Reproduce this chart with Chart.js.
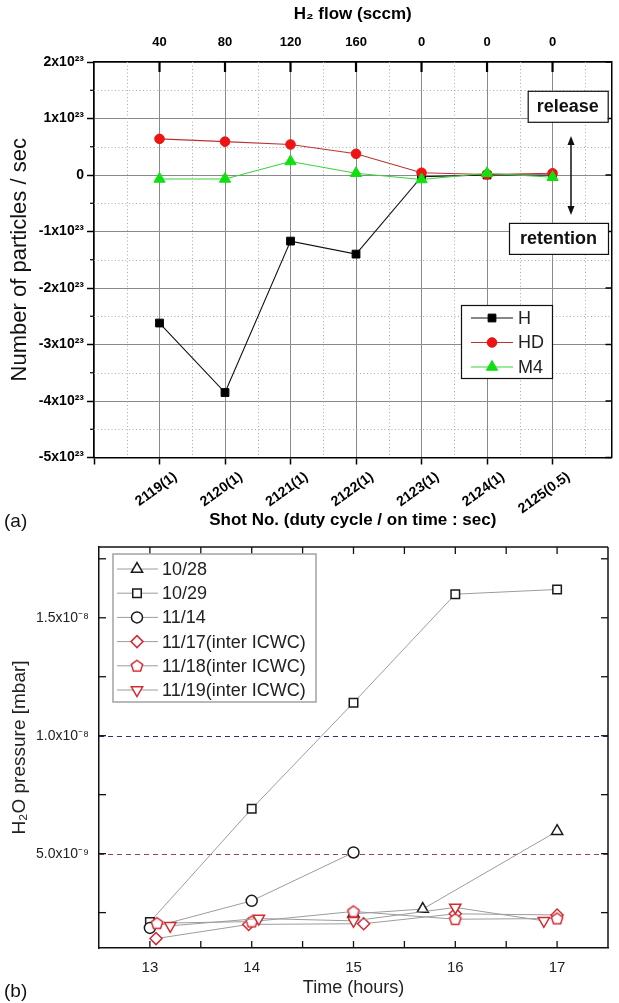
<!DOCTYPE html>
<html>
<head>
<meta charset="utf-8">
<script src="https://cdn.jsdelivr.net/npm/chart.js@4.4.1/dist/chart.umd.min.js"></script>
<style>
  html, body { margin:0; padding:0; background:#fff; }
  body { width:619px; height:1003px; position:relative; overflow:hidden; font-family:'Liberation Sans', Arial, sans-serif; }
  canvas { position:absolute; left:0; }
  #ca { top:0; }
  #cb { top:535px; }
  .panel { position:absolute; left:4px; font-size:19px; color:#111; line-height:1; }
</style>
</head>
<body>
<canvas id="ca" width="619" height="535"></canvas>
<canvas id="cb" width="619" height="468"></canvas>
<div class="panel" style="top:511px">(a)</div>
<div class="panel" style="top:981px">(b)</div>
<script>
// ================= DATA (a) =================
const shotLabels = ['2119(1)', '2120(1)', '2121(1)', '2122(1)', '2123(1)', '2124(1)', '2125(0.5)'];
const shotPos    = [1, 2, 3, 4, 5, 6, 7];
const flowLabels = ['40', '80', '120', '160', '0', '0', '0'];
const hValues    = [-2.62e23, -3.85e23, -1.17e23, -1.40e23, -0.03e23, 0.00e23, 0.00e23];
const hdValues   = [0.64e23, 0.59e23, 0.54e23, 0.375e23, 0.04e23, 0.01e23, 0.03e23];
const m4Values   = [-0.07e23, -0.07e23, 0.24e23, 0.03e23, -0.08e23, 0.03e23, -0.04e23];
const yTicksA    = [-5e23, -4e23, -3e23, -2e23, -1e23, 0, 1e23, 2e23];
const yMinorA    = [-4.5e23, -3.5e23, -2.5e23, -1.5e23, -0.5e23, 0.5e23, 1.5e23];
const xTicksA    = [0, 1, 2, 3, 4, 5, 6, 7];
const xMinorA    = [0.5, 1.5, 2.5, 3.5, 4.5, 5.5, 6.5, 7.5];

// ================= DATA (b) =================
const t1028 = [15.0, 15.68, 17.0];
const p1028 = [2.45e-9, 2.65e-9, 5.95e-9];
const t1029 = [13.0, 14.0, 15.0, 16.0, 17.0];
const p1029 = [2.1e-9, 6.9e-9, 1.14e-8, 1.60e-8, 1.62e-8];
const t1114 = [13.0, 14.0, 15.0];
const p1114 = [1.85e-9, 3.0e-9, 5.05e-9];
const t1117 = [13.06, 13.97, 15.1, 16.0, 17.0];
const p1117 = [1.4e-9, 2.0e-9, 2.03e-9, 2.45e-9, 2.4e-9];
const t1118 = [13.07, 14.0, 15.0, 16.0, 17.0];
const p1118 = [2.05e-9, 2.12e-9, 2.55e-9, 2.22e-9, 2.25e-9];
const t1119 = [13.2, 14.07, 15.0, 16.0, 16.87];
const p1119 = [1.94e-9, 2.25e-9, 2.15e-9, 2.72e-9, 2.15e-9];
const xTicksB = [13, 14, 15, 16, 17];
const xMinorB = [13.5, 14.5, 15.5, 16.5];
const yTicksB = [5e-9, 1.0e-8, 1.5e-8];
const yMinorB = [2.5e-9, 7.5e-9, 1.25e-8, 1.75e-8];
const refLevels = [1.0e-8, 5.0e-9];

// ================= helpers =================
const FONT = "'Liberation Sans', Arial, Helvetica, sans-serif";
Chart.defaults.font.family = FONT;
Chart.defaults.animation = false;
Chart.defaults.color = '#000';

const SUP = {'0':'⁰','1':'¹','2':'²','3':'³','4':'⁴','5':'⁵','6':'⁶','7':'⁷','8':'⁸','9':'⁹','-':'⁻'};
const sup = s => String(s).split('').map(c => SUP[c] || c).join('');
function seg(ctx, x1, y1, x2, y2) { ctx.beginPath(); ctx.moveTo(x1, y1); ctx.lineTo(x2, y2); ctx.stroke(); }
function zeroPad(s) { s.paddingLeft = 0; s.paddingRight = 0; s.paddingTop = 0; s.paddingBottom = 0; }
function setTicks(vals) { return s => { s.ticks = vals.map(v => ({ value: v })); }; }
function drawMarker(ctx, ds, x, y) {
  const opts = { pointStyle: ds.pointStyle, radius: ds.pointRadius, rotation: ds.pointRotation || 0, borderWidth: ds.pointBorderWidth };
  ctx.save();
  ctx.fillStyle = ds.pointBackgroundColor;
  ctx.strokeStyle = ds.pointBorderColor;
  ctx.lineWidth = ds.pointBorderWidth;
  ctx.setLineDash([]);
  Chart.helpers.drawPoint(ctx, opts, x, y);
  ctx.restore();
}

// ================= CHART (a) =================
const decorA = {
  id: 'decorA',
  beforeDatasetsDraw(chart) {
    const { ctx, chartArea: a, scales } = chart;
    const x = scales.x, y = scales.y;
    ctx.save();
    ctx.strokeStyle = '#a9a9a9'; ctx.lineWidth = 1; ctx.setLineDash([1, 2.5]);
    xMinorA.forEach(v => { const p = Math.round(x.getPixelForValue(v)) + 0.5; seg(ctx, p, a.top, p, a.bottom); });
    yMinorA.forEach(v => { const p = Math.round(y.getPixelForValue(v)) + 0.5; seg(ctx, a.left, p, a.right, p); });
    ctx.restore();
  },
  afterDatasetsDraw(chart) {
    const { ctx, chartArea: a, scales } = chart;
    const x = scales.x, y = scales.y;
    ctx.save();
    ctx.setLineDash([]);
    ctx.strokeStyle = '#000';
    ctx.lineWidth = 2.2;
    shotPos.forEach(v => { const p = x.getPixelForValue(v); seg(ctx, p, a.top, p, a.top + 10); });
    ctx.lineWidth = 1.5;
    yTicksA.forEach(v => { const p = y.getPixelForValue(v); seg(ctx, a.right, p, a.right - 6, p); });
    ctx.lineWidth = 1.2;
    yMinorA.forEach(v => { const p = y.getPixelForValue(v); seg(ctx, a.left, p, a.left - 4, p); });

    const lx = a.left + 367, ly = a.top + 243, lw = 91, lh = 73;
    ctx.fillStyle = '#fff'; ctx.fillRect(lx, ly, lw, lh);
    ctx.strokeStyle = '#111'; ctx.lineWidth = 1.2; ctx.strokeRect(lx + 0.5, ly + 0.5, lw, lh);
    chart.data.datasets.forEach((ds, i) => {
      const cy = ly + 13 + i * 24.5;
      ctx.strokeStyle = ds.borderColor; ctx.lineWidth = 1.2;
      seg(ctx, lx + 10, cy, lx + 52, cy);
      drawMarker(ctx, ds, lx + 31, cy);
      ctx.fillStyle = '#222'; ctx.font = '18px ' + FONT; ctx.textAlign = 'left'; ctx.textBaseline = 'middle';
      ctx.fillText(ds.label, lx + 57, cy + 1);
    });

    const box = (cx, cy, w, h, t) => {
      ctx.fillStyle = '#fff'; ctx.fillRect(cx - w / 2, cy - h / 2, w, h);
      ctx.strokeStyle = '#111'; ctx.lineWidth = 1.2; ctx.strokeRect(cx - w / 2 + 0.5, cy - h / 2 + 0.5, w, h);
      ctx.fillStyle = '#111'; ctx.font = 'bold 18px ' + FONT; ctx.textAlign = 'center'; ctx.textBaseline = 'middle';
      ctx.fillText(t, cx, cy + 1);
    };
    box(a.left + 473.7, a.top + 44.3, 80, 31, 'release');
    box(a.left + 464.5, a.top + 176.4, 99, 31, 'retention');

    const ax = a.left + 477, ay1 = a.top + 74, ay2 = a.top + 153;
    ctx.strokeStyle = '#111'; ctx.lineWidth = 1.5;
    seg(ctx, ax, ay1 + 5, ax, ay2 - 5);
    ctx.fillStyle = '#111';
    ctx.beginPath(); ctx.moveTo(ax, ay1); ctx.lineTo(ax - 3.5, ay1 + 9); ctx.lineTo(ax + 3.5, ay1 + 9); ctx.closePath(); ctx.fill();
    ctx.beginPath(); ctx.moveTo(ax, ay2); ctx.lineTo(ax - 3.5, ay2 - 9); ctx.lineTo(ax + 3.5, ay2 - 9); ctx.closePath(); ctx.fill();
    ctx.restore();
  }
};

const toXY = (xs, ys) => xs.map((v, i) => ({ x: v, y: ys[i] }));

new Chart(document.getElementById('ca'), {
  type: 'line',
  data: {
    datasets: [
      { label: 'H', data: toXY(shotPos, hValues), borderColor: '#111', borderWidth: 1.1,
        pointStyle: 'rect', pointRadius: 5.5, pointBorderWidth: 1, pointBackgroundColor: '#000', pointBorderColor: '#000', order: 3 },
      { label: 'HD', data: toXY(shotPos, hdValues), borderColor: '#b83434', borderWidth: 1.1,
        pointStyle: 'circle', pointRadius: 4.8, pointBorderWidth: 1, pointBackgroundColor: '#ee1414', pointBorderColor: '#ee1414', order: 2 },
      { label: 'M4', data: toXY(shotPos, m4Values), borderColor: '#3cd23c', borderWidth: 1.1,
        pointStyle: 'triangle', pointRadius: 6.5, pointBorderWidth: 1, pointBackgroundColor: '#10e010', pointBorderColor: '#10e010', order: 1 }
    ]
  },
  options: {
    responsive: false,
    animation: false,
    layout: { padding: { left: 0, right: 2, top: 0, bottom: 0 } },
    plugins: { legend: { display: false }, tooltip: { enabled: false } },
    elements: { line: { tension: 0 } },
    scales: {
      x: {
        type: 'linear', position: 'bottom', min: 0, max: 7.9,
        afterBuildTicks: setTicks(xTicksA),
        afterFit: s => { s.height = 535 - 457.5; zeroPad(s); },
        grid: { color: '#8a8a8a', lineWidth: 1, drawTicks: true, tickLength: 7, tickColor: '#000', tickWidth: 1.5 },
        border: { display: true, color: '#000', width: 1.5 },
        ticks: { autoSkip: false, minRotation: 36, maxRotation: 36, padding: 4, labelOffset: 16,
                 font: { size: 14, weight: 'bold' }, color: '#000',
                 callback: v => (v >= 1 && v <= shotLabels.length) ? shotLabels[v - 1] : '' },
        title: { display: true, text: 'Shot No. (duty cycle / on time : sec)', font: { size: 17, weight: 'bold' }, color: '#000',
                 padding: { top: 0, bottom: 4 } }
      },
      xTop: {
        axis: 'x', type: 'linear', position: 'top', min: 0, max: 7.9,
        afterBuildTicks: setTicks(shotPos),
        afterFit: s => { s.height = 62; zeroPad(s); },
        grid: { drawOnChartArea: false, drawTicks: false },
        border: { display: true, color: '#000', width: 1.5 },
        ticks: { autoSkip: false, padding: 12, font: { size: 13, weight: 'bold' }, color: '#000',
                 callback: v => flowLabels[v - 1] },
        title: { display: true, text: 'H₂ flow (sccm)', font: { size: 17, weight: 'bold' }, color: '#000',
                 padding: { top: 4, bottom: 0 } }
      },
      y: {
        type: 'linear', position: 'left', min: -5e23, max: 2e23,
        afterBuildTicks: setTicks(yTicksA),
        afterFit: s => { s.width = 94; zeroPad(s); },
        grid: { color: '#8a8a8a', lineWidth: 1, drawTicks: true, tickLength: 7, tickColor: '#000', tickWidth: 1.5 },
        border: { display: true, color: '#000', width: 1.5 },
        ticks: { padding: 3, font: { size: 14, weight: 'bold' }, color: '#000',
                 callback: v => v === 0 ? '0' : Math.round(v / 1e23) + 'x10' + sup(23) },
        title: { display: true, text: 'Number of particles / sec', font: { size: 22 }, color: '#111',
                 padding: { top: 7, bottom: 0 } }
      },
      yR: {
        axis: 'y', type: 'linear', position: 'right', min: -5e23, max: 2e23,
        afterFit: s => { s.width = 0; zeroPad(s); },
        grid: { drawOnChartArea: false, drawTicks: false },
        border: { display: true, color: '#000', width: 1.5 },
        ticks: { display: false }
      }
    }
  },
  plugins: [decorA]
});

// ================= CHART (b) =================
function makePentagon(color) {
  const c = document.createElement('canvas'); c.width = 16; c.height = 16;
  const g = c.getContext('2d');
  g.beginPath();
  for (let i = 0; i < 5; i++) {
    const ang = -Math.PI / 2 + i * 2 * Math.PI / 5;
    const px = 8 + 6 * Math.cos(ang), py = 8.5 + 6 * Math.sin(ang);
    if (i) g.lineTo(px, py); else g.moveTo(px, py);
  }
  g.closePath(); g.fillStyle = '#fff'; g.fill();
  g.strokeStyle = color; g.lineWidth = 1.5; g.stroke();
  return c;
}
const BLK = '#1a1a1a', RED = '#d42a32';
const pent = makePentagon(RED);
function seriesB(label, xs, ys, style, color, radius, extra) {
  return Object.assign({
    label, data: toXY(xs, ys), borderColor: '#9c9c9c', borderWidth: 1,
    pointStyle: style, pointRadius: radius, pointBorderWidth: 1.5,
    pointBorderColor: color, pointBackgroundColor: '#fff', tension: 0, fill: false
  }, extra || {});
}

const decorB = {
  id: 'decorB',
  beforeDatasetsDraw(chart) {
    const { ctx, chartArea: a, scales } = chart;
    const y = scales.y;
    const cols = ['#2e2e70', '#a53a52'];
    ctx.save(); ctx.lineWidth = 1.2; ctx.setLineDash([5, 4]);
    refLevels.forEach((v, i) => { const p = Math.round(y.getPixelForValue(v)) + 0.5; ctx.strokeStyle = cols[i]; seg(ctx, a.left, p, a.right, p); });
    ctx.restore();
  },
  afterDatasetsDraw(chart) {
    const { ctx, chartArea: a, scales } = chart;
    const x = scales.x, y = scales.y;
    ctx.save(); ctx.setLineDash([]);
    ctx.strokeStyle = '#111'; ctx.lineWidth = 1.5;
    seg(ctx, a.left, a.top, a.right, a.top);
    seg(ctx, a.right, a.top, a.right, a.bottom);
    ctx.lineWidth = 1.3;
    xTicksB.concat(xMinorB).forEach(v => { const p = x.getPixelForValue(v); seg(ctx, p, a.top, p, a.top + 7); seg(ctx, p, a.bottom, p, a.bottom - 7); });
    yTicksB.concat(yMinorB).forEach(v => { const p = y.getPixelForValue(v); seg(ctx, a.left, p, a.left + 7, p); seg(ctx, a.right, p, a.right - 7, p); });

    const lx = a.left + 14, ly = a.top + 7, lw = 203, lh = 148;
    ctx.fillStyle = '#fff'; ctx.fillRect(lx, ly, lw, lh);
    ctx.strokeStyle = '#a8a8a8'; ctx.lineWidth = 1.6; ctx.strokeRect(lx, ly, lw, lh);
    chart.data.datasets.forEach((ds, i) => {
      const cy = ly + 15 + i * 24.2;
      ctx.strokeStyle = '#9c9c9c'; ctx.lineWidth = 1;
      seg(ctx, lx + 4, cy, lx + 45, cy);
      drawMarker(ctx, ds, lx + 24, cy);
      ctx.fillStyle = '#222'; ctx.font = '18px ' + FONT; ctx.textAlign = 'left'; ctx.textBaseline = 'middle';
      ctx.fillText(ds.label, lx + 49, cy + 1);
    });
    ctx.restore();
  }
};

new Chart(document.getElementById('cb'), {
  type: 'line',
  data: {
    datasets: [
      seriesB('10/28', t1028, p1028, 'triangle', BLK, 6.5, { order: 6 }),
      seriesB('10/29', t1029, p1029, 'rect', BLK, 6, { order: 5 }),
      seriesB('11/14', t1114, p1114, 'circle', BLK, 5.5, { order: 4 }),
      seriesB('11/17(inter ICWC)', t1117, p1117, 'rectRot', RED, 6, { order: 3 }),
      seriesB('11/18(inter ICWC)', t1118, p1118, pent, RED, 6, { order: 2 }),
      seriesB('11/19(inter ICWC)', t1119, p1119, 'triangle', RED, 6.5, { order: 1, pointRotation: 180 })
    ]
  },
  options: {
    responsive: false,
    animation: false,
    layout: { padding: { left: 0, right: 11, top: 12, bottom: 0 } },
    plugins: { legend: { display: false }, tooltip: { enabled: false } },
    scales: {
      x: {
        type: 'linear', position: 'bottom', min: 12.5, max: 17.5,
        afterBuildTicks: setTicks(xTicksB),
        afterFit: s => { s.height = 55; zeroPad(s); },
        grid: { drawOnChartArea: false, drawTicks: false },
        border: { display: true, color: '#111', width: 1.5 },
        ticks: { autoSkip: false, maxRotation: 0, padding: 11, font: { size: 15 }, color: '#222', callback: v => String(v) },
        title: { display: true, text: 'Time (hours)', font: { size: 18 }, color: '#222', padding: { top: 0, bottom: 4 } }
      },
      y: {
        type: 'linear', position: 'left', min: 1e-9, max: 1.8e-8,
        afterBuildTicks: setTicks(yTicksB),
        afterFit: s => { s.width = 99; zeroPad(s); },
        grid: { drawOnChartArea: false, drawTicks: false },
        border: { display: true, color: '#111', width: 1.5 },
        ticks: { padding: 10, font: { size: 14 }, color: '#222',
                 callback: v => { const e = Math.floor(Math.log10(v) + 1e-9); return (v / Math.pow(10, e)).toFixed(1) + 'x10' + sup(e); } },
        title: { display: true, text: 'H₂O pressure [mbar]', font: { size: 19 }, color: '#222', padding: { top: 8, bottom: 0 } }
      }
    }
  },
  plugins: [decorB]
});
</script>
</body>
</html>
